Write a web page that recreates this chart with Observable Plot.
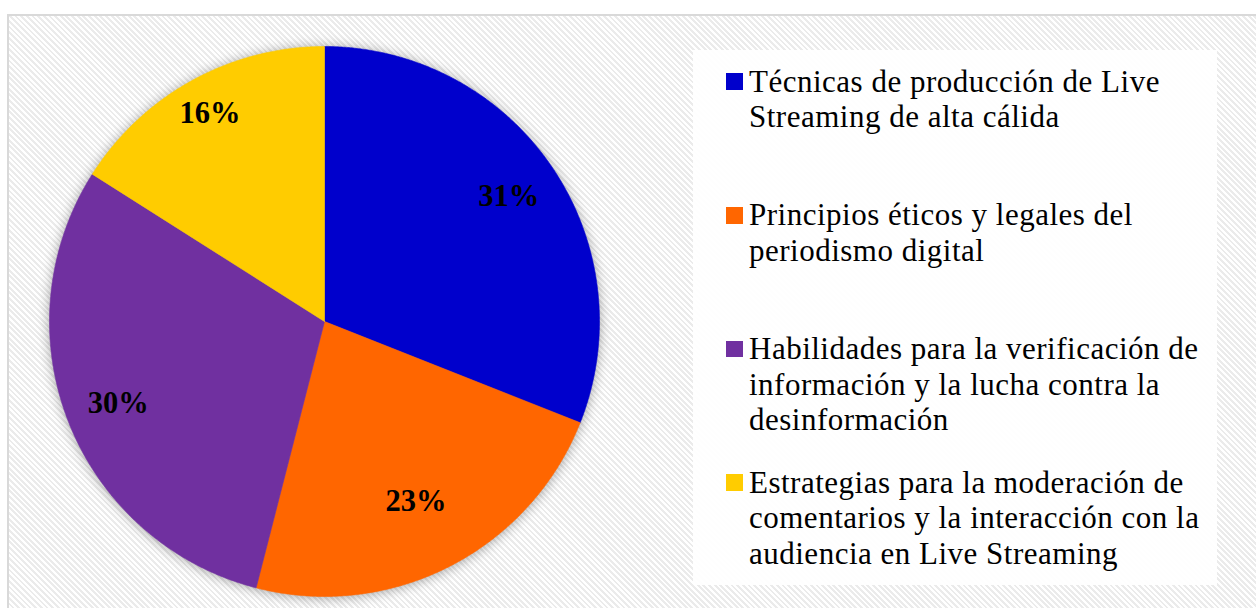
<!DOCTYPE html>
<html>
<head>
<meta charset="utf-8">
<script src="https://cdn.jsdelivr.net/npm/d3@7"></script>
<script src="https://cdn.jsdelivr.net/npm/@observablehq/plot@0.6"></script>
<style>
  html, body { margin: 0; padding: 0; background: #ffffff; }
  #wrap { position: relative; width: 1256px; height: 608px; overflow: hidden; background: #fff; }
  #frame {
    position: absolute; left: 7px; top: 14px; width: 1270px; height: 620px;
    border-top: 2px solid #d9d9d9; border-left: 2px solid #d9d9d9;
    background: repeating-linear-gradient(45deg, #ffffff 0px, #ffffff 2px, #ebebeb 2px, #ebebeb 4px);
  }
  #pie { position: absolute; left: 23.5px; top: 21px; }
  #legend {
    position: absolute; left: 693px; top: 50px; width: 524px; height: 535px;
    background: rgba(255,255,255,0.93);
  }
  .item { position: absolute; left: 0; font-family: "Liberation Serif", "Times New Roman", serif;
    font-size: 31px; line-height: 35.5px; letter-spacing: 0.5px; color: #000; white-space: nowrap; }
  .sw { position: absolute; left: 33px; width: 16.7px; height: 16.7px; }
  .txt { position: absolute; left: 56px; top: 0; }
</style>
</head>
<body>
<div id="wrap">
  <div id="frame"></div>
  <div id="pie"></div>
  <div id="legend"></div>
</div>
<script>
const categories = [
  "Técnicas de producción de Live Streaming de alta cálida",
  "Principios éticos y legales del periodismo digital",
  "Habilidades para la verificación de información y la lucha contra la desinformación",
  "Estrategias para la moderación de comentarios y la interacción con la audiencia en Live Streaming"
];
const values = [31, 23, 30, 16];
const percentLabels = ["31%", "23%", "30%", "16%"];
const colors = ["#0000CC", "#FF6600", "#7030A0", "#FFCC00"];
const legendLines = [
  ["Técnicas de producción de Live", "Streaming de alta cálida"],
  ["Principios éticos y legales del", "periodismo digital"],
  ["Habilidades para la verificación de", "información y la lucha contra la", "desinformación"],
  ["Estrategias para la moderación de", "comentarios y la interacción con la", "audiencia en Live Streaming"]
];
// label distance from centre, as a fraction of the radius (Excel "best fit")
const labelRadius = [0.81, 0.733, 0.807, 0.865];

const arcs = d3.pie().sort(null).value(d => d)(values);

const pts = [];
arcs.forEach((a, i) => {
  const cat = categories[i];
  pts.push({cat, x: 0, y: 0});
  const n = Math.max(2, Math.ceil((a.endAngle - a.startAngle) / 0.005));
  for (let j = 0; j <= n; j++) {
    const t = a.startAngle + (a.endAngle - a.startAngle) * j / n;
    pts.push({cat, x: Math.sin(t), y: Math.cos(t)});
  }
  pts.push({cat, x: 0, y: 0});
});

const lbls = arcs.map((a, i) => {
  const m = (a.startAngle + a.endAngle) / 2;
  return {text: percentLabels[i], x: labelRadius[i] * Math.sin(m), y: labelRadius[i] * Math.cos(m)};
});

const k = 300 / 275;
const chart = Plot.plot({
  width: 600, height: 600, margin: 0,
  x: {domain: [-k, k], axis: null},
  y: {domain: [-k, k], axis: null},
  color: {domain: categories, range: colors},
  style: {background: "transparent", overflow: "visible"},
  marks: [
    Plot.line(pts, {x: "x", y: "y", z: "cat", fill: "cat", stroke: "cat", strokeWidth: 0.6, curve: "linear"}),
    Plot.text(lbls, {x: "x", y: "y", text: "text", fontSize: 30.5, fontWeight: "bold",
      fontFamily: "Liberation Serif, Times New Roman, serif", fill: "#000"})
  ]
});
const lineG = chart.querySelector('g[aria-label="line"]');
if (lineG) lineG.style.filter = "drop-shadow(0px 1px 6px rgba(0,0,0,0.35))";
document.getElementById("pie").appendChild(chart);

const legend = d3.select("#legend");
legendLines.forEach((lines, i) => {
  const it = legend.append("div").attr("class", "item").style("top", (13.8 + i * 133.6) + "px");
  it.append("div").attr("class", "sw").style("top", "9.5px").style("background", colors[i]);
  const t = it.append("div").attr("class", "txt");
  lines.forEach((l, j) => { if (j) t.append("br"); t.append("span").text(l); });
});
</script>
</body>
</html>
